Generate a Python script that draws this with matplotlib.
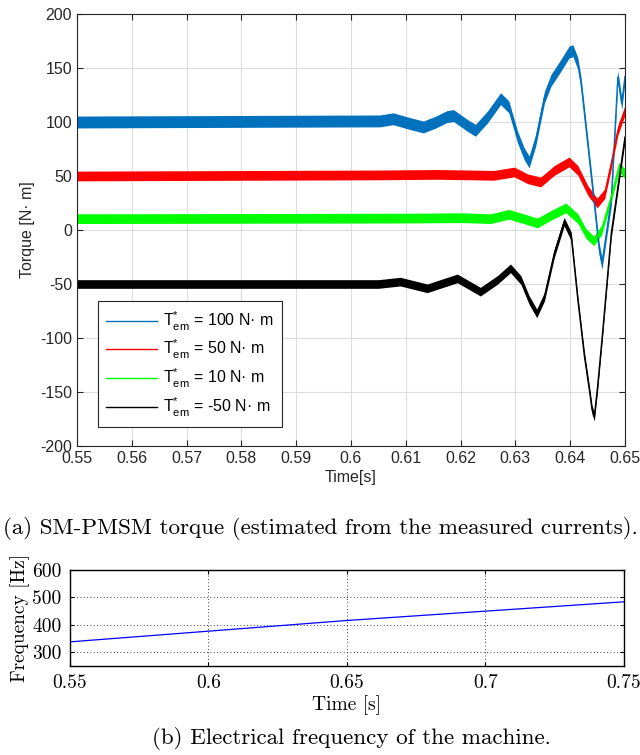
import numpy as np
import matplotlib.pyplot as plt

plt.rcParams['font.family'] = ['Liberation Sans', 'DejaVu Sans']
plt.rcParams['mathtext.fontset'] = 'custom'
plt.rcParams['mathtext.rm'] = 'Liberation Sans'
plt.rcParams['mathtext.it'] = 'Liberation Sans:italic'
plt.rcParams['axes.unicode_minus'] = False

# torque traces, slow part (time s, torque N.m)
t_100 = [0.550, 0.6053, 0.6077, 0.6108, 0.6132, 0.6155, 0.6175, 0.6187, 0.6212,
         0.6227, 0.6249, 0.6273, 0.6288, 0.6304, 0.6316, 0.6325, 0.6337, 0.6353,
         0.6365, 0.6383, 0.6398, 0.6405, 0.6414, 0.6420, 0.6432, 0.6444, 0.6453,
         0.6458, 0.6475, 0.6487, 0.6494, 0.650]
T_100 = [100, 101, 103, 98.5, 95.4, 100, 105, 106, 97,
         92.3, 104.6, 121.6, 114, 86, 70.7, 63, 83, 123,
         138.6, 152.5, 164.8, 166, 154, 135.5, 80, 24.4, -18,
         -31, 28, 142, 117, 142]

t_50 = [0.550, 0.605, 0.6155, 0.622, 0.626, 0.6298, 0.6322, 0.6346, 0.6371,
        0.6398, 0.6414, 0.6432, 0.6449, 0.6463, 0.6475, 0.6487, 0.650]
T_50 = [50, 51, 51.5, 51, 50.6, 53.7, 47.5, 44.4, 55.2,
        63, 55.2, 36.7, 25, 33.6, 61.4, 92.3, 111]

t_10 = [0.550, 0.610, 0.620, 0.6255, 0.6288, 0.6315, 0.634, 0.6365, 0.6392,
        0.6414, 0.6429, 0.6443, 0.6457, 0.6475, 0.6489, 0.650]
T_10 = [10.5, 11, 11.4, 10.5, 14.5, 10.5, 6.5, 13.6, 20.5,
        10.5, -3.4, -10, -0.3, 30.6, 58.3, 52]

t_m50 = [0.550, 0.605, 0.609, 0.6139, 0.6194, 0.6236, 0.6267, 0.6291, 0.6310,
         0.6325, 0.6339, 0.6353, 0.6371, 0.6389, 0.6402, 0.6414, 0.6426, 0.6435,
         0.6440, 0.6444, 0.6450, 0.6459, 0.6475, 0.650]
T_m50 = [-50, -50, -47.8, -54, -44.8, -57.1, -46.3, -35.5, -46.3,
         -64.8, -77.2, -61.7, -21.6, 7.7, -6.2, -64.8, -117, -148,
         -166.7, -172.8, -145, -95.7, -3.1, 86]

# half height of the switching ripple band on each trace
ripple_100 = 5.5
ripple_50 = 4.5
ripple_10 = 4.5
ripple_m50 = 4.0

labels = ['T$^{*}_{\\mathrm{em}}$ = 100 N\u00b7 m',
          'T$^{*}_{\\mathrm{em}}$ = 50 N\u00b7 m',
          'T$^{*}_{\\mathrm{em}}$ = 10 N\u00b7 m',
          'T$^{*}_{\\mathrm{em}}$ = -50 N\u00b7 m']
colors = ['#0072BD', '#FF0000', '#00FF00', '#000000']

# electrical frequency
t_freq = [0.55, 0.60, 0.65, 0.70, 0.75]
f_freq = [338, 377, 416, 450, 484]

fig = plt.figure(figsize=(6.4, 7.55), dpi=100)

ax = fig.add_axes([77/640, 1-446/755, 548/640, 432/755])
series = [(t_100, T_100, ripple_100), (t_50, T_50, ripple_50),
          (t_10, T_10, ripple_10), (t_m50, T_m50, ripple_m50)]
for (tt, yy, w), c, lab in zip(series, colors, labels):
    tt = np.array(tt)
    yy = np.array(yy, dtype=float)
    ax.fill_between(tt, yy - w, yy + w, color=c, lw=0)
    ax.plot(tt, yy, color=c, lw=1.0, label=lab)

ax.set_xlim(0.55, 0.65)
ax.set_ylim(-200, 200)
ax.set_xticks(np.arange(0.55, 0.6501, 0.01))
ax.set_xticklabels(['%g' % round(v, 2) for v in np.arange(0.55, 0.6501, 0.01)])
ax.set_yticks(np.arange(-200, 201, 50))
ax.grid(True, color='#dddddd', lw=0.8)
ax.set_axisbelow(True)
ax.tick_params(direction='in', top=True, right=True, labelsize=11.5,
               colors='#262626', length=4)
for s in ax.spines.values():
    s.set_color('#262626')
ax.set_xlabel('Time[s]', fontsize=11.5, color='#262626', labelpad=3)
ax.set_ylabel('Torque [N\u00b7 m]', fontsize=11.5, color='#262626', labelpad=4)
leg = ax.legend(loc='lower left', bbox_to_anchor=(0.038, 0.044), fontsize=11.5,
                fancybox=False, edgecolor='#262626', handlelength=3.2,
                borderpad=0.5, labelspacing=0.35, handletextpad=0.4,
                borderaxespad=0, framealpha=1)
leg.get_frame().set_linewidth(0.8)
for h in leg.get_lines():
    h.set_linewidth(1.0)

fig.text(0.5, 1-528/755, '(a) SM-PMSM torque (estimated from the measured currents).',
         ha='center', va='center', fontsize=16.6, family='cmr10')

ax2 = fig.add_axes([70/640, 1-666/755, 554/640, 96/755])
ax2.plot(t_freq, f_freq, color='#0000FF', lw=0.9)
ax2.set_xlim(0.55, 0.75)
ax2.set_ylim(250, 600)
ax2.set_xticks(t_freq)
ax2.set_xticklabels(['0.55', '0.6', '0.65', '0.7', '0.75'], family='cmr10', fontsize=14)
ax2.set_yticks([300, 400, 500, 600])
ax2.set_yticklabels(['300', '400', '500', '600'], family='cmr10', fontsize=14)
ax2.grid(True, color='black', ls=(0, (1, 3)), lw=0.6)
ax2.tick_params(direction='in', top=True, right=True, length=3, pad=6)
for s in ax2.spines.values():
    s.set_linewidth(1.0)
ax2.set_xlabel('Time [s]', family='cmr10', fontsize=14, labelpad=2)
ax2.set_ylabel('Frequency [Hz]', family='cmr10', fontsize=14, labelpad=2)

fig.text(0.5 + 31/640, 1-738/755, '(b) Electrical frequency of the machine.',
         ha='center', va='center', fontsize=16.6, family='cmr10')

fig.savefig('out.png', dpi=100)
